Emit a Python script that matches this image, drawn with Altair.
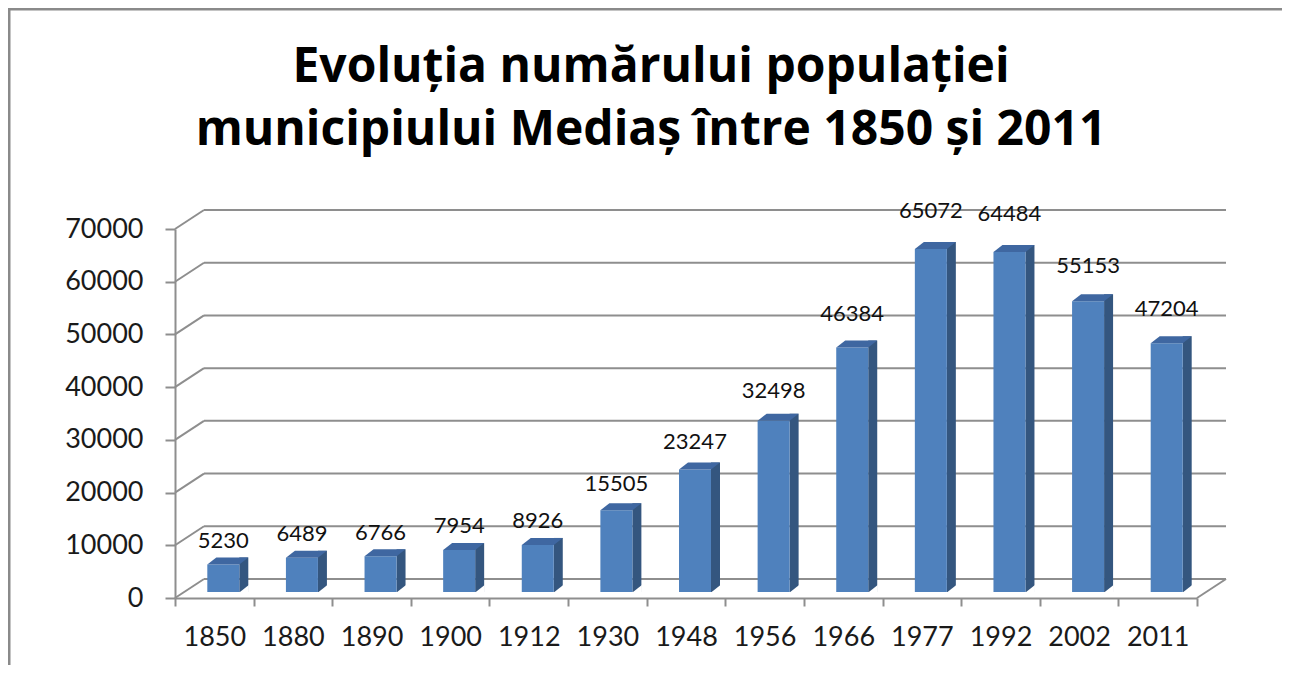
import altair as alt
import pandas as pd

years = ["1850", "1880", "1890", "1900", "1912", "1930", "1948",
         "1956", "1966", "1977", "1992", "2002", "2011"]
population = [5230, 6489, 6766, 7954, 8926, 15505, 23247,
              32498, 46384, 65072, 64484, 55153, 47204]
y_ticks = [0, 10000, 20000, 30000, 40000, 50000, 60000, 70000]
title_lines = ["Evoluția numărului populației",
               "municipiului Mediaș între 1850 și 2011"]

W, H = 1022, 369
DX, DY = 29, -19           # depth of the back wall
FRONT = "#4F81BD"
SIDE = "#34567F"
TOP = "#3F67A1"
GRID = "#8E8E8E"
FONT = "Lato"
TFONT = "Open Sans"

df = pd.DataFrame({"year": years, "pop": population})
grid_df = pd.DataFrame({"v": y_ticks})

yscale = alt.Scale(domain=[0, 70000], nice=False, zero=True)
xscale = alt.Scale(paddingInner=0, paddingOuter=0)
y_axis = alt.Axis(values=y_ticks, title=None, format="d")
x_axis = alt.Axis(title=None, labelAngle=0)

X = alt.X("year:N", sort=years, scale=xscale, axis=x_axis)

base = alt.Chart(df)
gridc = alt.Chart(grid_df)
one = alt.Chart(alt.Data(values=[{"a": 1}]))

back_grid = gridc.mark_rule(color=GRID, strokeWidth=2, yOffset=DY).encode(
    y=alt.Y("v:Q", scale=yscale, axis=y_axis),
    x=alt.value(DX), x2=alt.value(W + DX))

diag = gridc.mark_rule(color=GRID, strokeWidth=2, y2Offset=DY).encode(
    y=alt.Y("v:Q", scale=yscale, axis=y_axis), y2="v:Q",
    x=alt.value(0), x2=alt.value(DX))

right_diag = gridc.transform_filter("datum.v == 0").mark_rule(
    color=GRID, strokeWidth=2, y2Offset=DY).encode(
    y=alt.Y("v:Q", scale=yscale, axis=y_axis), y2="v:Q",
    x=alt.value(W), x2=alt.value(W + DX))

front = base.mark_bar(width=32, xOffset=9, x2Offset=9, yOffset=-6, y2Offset=-6,
                      color=FRONT).encode(
    x=X, y=alt.Y("pop:Q", scale=yscale, axis=y_axis), y2=alt.datum(0))

side = base.mark_bar(width=9, xOffset=29.5, x2Offset=29.5, yOffset=-13, y2Offset=-6,
                     color=SIDE).encode(
    x=X, y=alt.Y("pop:Q", scale=yscale, axis=y_axis), y2=alt.datum(0))

top_face = base.mark_point(shape="M -1.6 0 L 1.6 0 L 2.5 -0.7 L -0.7 -0.7 Z",
                           size=400, filled=True, opacity=1, color=TOP,
                           strokeWidth=0, xOffset=9, yOffset=-6).encode(
    x=X, y=alt.Y("pop:Q", scale=yscale, axis=y_axis))

patch = base.mark_point(shape="M 1.6 0.05 L 2.55 0.05 L 2.55 -0.7 Z",
                        size=400, filled=True, opacity=1, color="white",
                        strokeWidth=0, xOffset=9, yOffset=-6).encode(
    x=X, y=alt.Y("zero:Q", scale=yscale, axis=y_axis)).transform_calculate(zero="0")

labels = base.transform_calculate(lab="datum.pop * 1.047").mark_text(
    font=FONT, fontSize=22, color="#111111", baseline="alphabetic",
    align="center", dx=9, dy=-21).encode(
    x=X, y=alt.Y("lab:Q", scale=yscale, axis=y_axis), text="pop:Q")

frame_left = one.mark_rule(color="#8A8A8A", strokeWidth=3).encode(
    x=alt.value(-166), y=alt.value(-220), y2=alt.value(H + 67))
frame_top = one.mark_rule(color="#8A8A8A", strokeWidth=3).encode(
    x=alt.value(-167), x2=alt.value(W + 85), y=alt.value(-220))

t1 = one.mark_text(font=TFONT, fontSize=48, fontWeight="bold", align="center",
                   baseline="alphabetic", color="#000000").encode(
    x=alt.value(476), y=alt.value(-147), text=alt.value(title_lines[0]))
t2 = one.mark_text(font=TFONT, fontSize=48, fontWeight="bold", align="center",
                   baseline="alphabetic", color="#000000").encode(
    x=alt.value(476), y=alt.value(-84), text=alt.value(title_lines[1]))

chart = alt.layer(
    back_grid, diag, right_diag, side, front, top_face, patch, labels,
    frame_left, frame_top, t1, t2
).properties(
    width=W, height=H,
    autosize=alt.AutoSizeParams(type="none"),
    padding={"left": 167, "top": 221, "right": 85, "bottom": 67},
).configure_view(stroke=None).configure_axisY(
    labelFont=FONT, labelFontSize=27, labelColor="#1a1a1a", labelPadding=22,
    tickSize=10, tickWidth=2, tickColor=GRID, domainColor=GRID, domainWidth=2,
    grid=False,
).configure_axisX(
    labelFont=FONT, labelFontSize=27, labelColor="#1a1a1a", labelPadding=18,
    tickSize=8, tickWidth=2, tickColor=GRID, domainColor=GRID, domainWidth=2,
    tickBand="extent", grid=False,
)

chart.save("out.html", embed_options={"renderer": "svg", "actions": False})
